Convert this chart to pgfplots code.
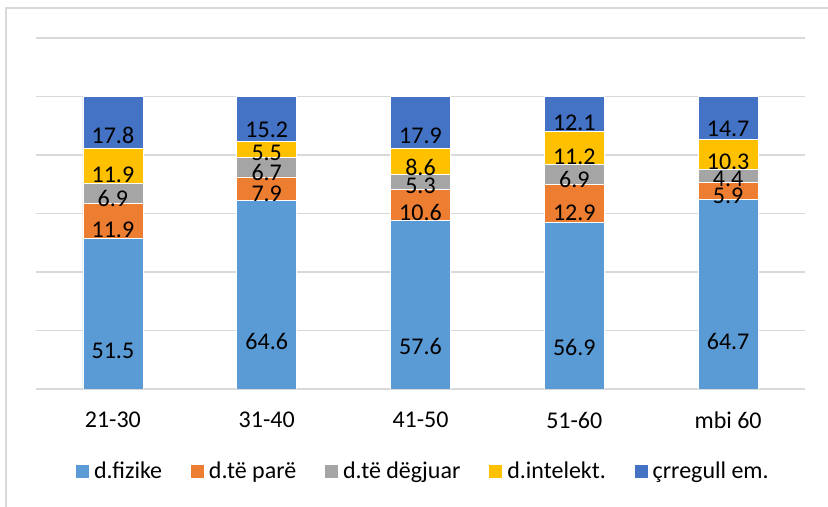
\documentclass[border=0pt]{standalone}
\usepackage{fontspec}
\setmainfont{Carlito}
\usepackage{pgfplots}
\pgfplotsset{compat=1.18}
\usepackage{pgfplotstable}

\definecolor{cFiz}{HTML}{5B9BD5}
\definecolor{cPar}{HTML}{ED7D31}
\definecolor{cDeg}{HTML}{A5A5A5}
\definecolor{cInt}{HTML}{FFC000}
\definecolor{cCrr}{HTML}{4472C4}
\definecolor{gridgray}{HTML}{D9D9D9}

\pgfplotstableread{
x fiz par deg int crr
0 51.5 11.9 6.9 11.9 17.8
1 64.6 7.9 6.7 5.5 15.2
2 57.6 10.6 5.3 8.6 17.9
3 56.9 12.9 6.9 11.2 12.1
4 64.7 5.9 4.4 10.3 14.7
}\datatable

% shift labels down to the middle of each segment (the style is applied twice)
\pgfplotsset{
  calcshift/.code={%
    \pgfkeys{/pgf/fpu=true,/pgf/fpu/output format=fixed}%
    \pgfmathsetmacro\labshift{\pgfplotspointmeta*0.365625}%
    \pgfkeys{/pgf/fpu=false}%
  },
}

\begin{document}
\begin{tikzpicture}
\path[use as bounding box] (0,0) rectangle (414pt,253.5pt);
\draw[gridgray, line width=0.8pt] (3pt,0) -- (3pt,249.5pt) -- (414pt,249.5pt);

\begin{axis}[
  at={(18pt,59pt)}, anchor=south west,
  scale only axis,
  width=384.5pt, height=175.5pt,
  font=\fontsize{12}{14}\selectfont,
  ybar stacked,
  bar width=30pt,
  xmin=-0.5, xmax=4.5,
  ymin=0, ymax=120,
  xtick=data,
  xticklabels={21-30,31-40,41-50,51-60,mbi 60},
  xticklabel style={yshift=-8pt},
  ytick={0,20,40,60,80,100,120},
  yticklabels={},
  ymajorgrids,
  grid style={gridgray, line width=0.8pt},
  axis line style={draw=none},
  major tick length=0pt,
  /pgf/number format/assume math mode=true,
  /pgf/number format/fixed,
  /pgf/number format/precision=1,
  point meta=explicit,
  nodes near coords,
  every node near coord/.append style={/pgfplots/calcshift, anchor=center,
    yshift=-\labshift pt, text=black, font=\fontsize{12}{14}\selectfont},
  legend style={at={(0.5046,-0.235)}, anchor=center, draw=none,
    legend columns=5, font=\fontsize{12}{14}\selectfont,
    /tikz/every even column/.append style={column sep=12pt}},
  legend image code/.code={\fill[#1] (0pt,-3.5pt) rectangle (7pt,3.5pt);},
]
\addplot[fill=cFiz, draw=white, line width=0.4pt] table[x=x, y=fiz, meta=fiz] {\datatable};
\addlegendentry{d.fizike}
\addplot[fill=cPar, draw=white, line width=0.4pt] table[x=x, y=par, meta=par] {\datatable};
\addlegendentry{d.të parë}
\addplot[fill=cDeg, draw=white, line width=0.4pt] table[x=x, y=deg, meta=deg] {\datatable};
\addlegendentry{d.të dëgjuar}
\addplot[fill=cInt, draw=white, line width=0.4pt] table[x=x, y=int, meta=int] {\datatable};
\addlegendentry{d.intelekt.}
\addplot[fill=cCrr, draw=white, line width=0.4pt] table[x=x, y=crr, meta=crr] {\datatable};
\addlegendentry{çrregull em.}
\end{axis}
\end{tikzpicture}
\end{document}
